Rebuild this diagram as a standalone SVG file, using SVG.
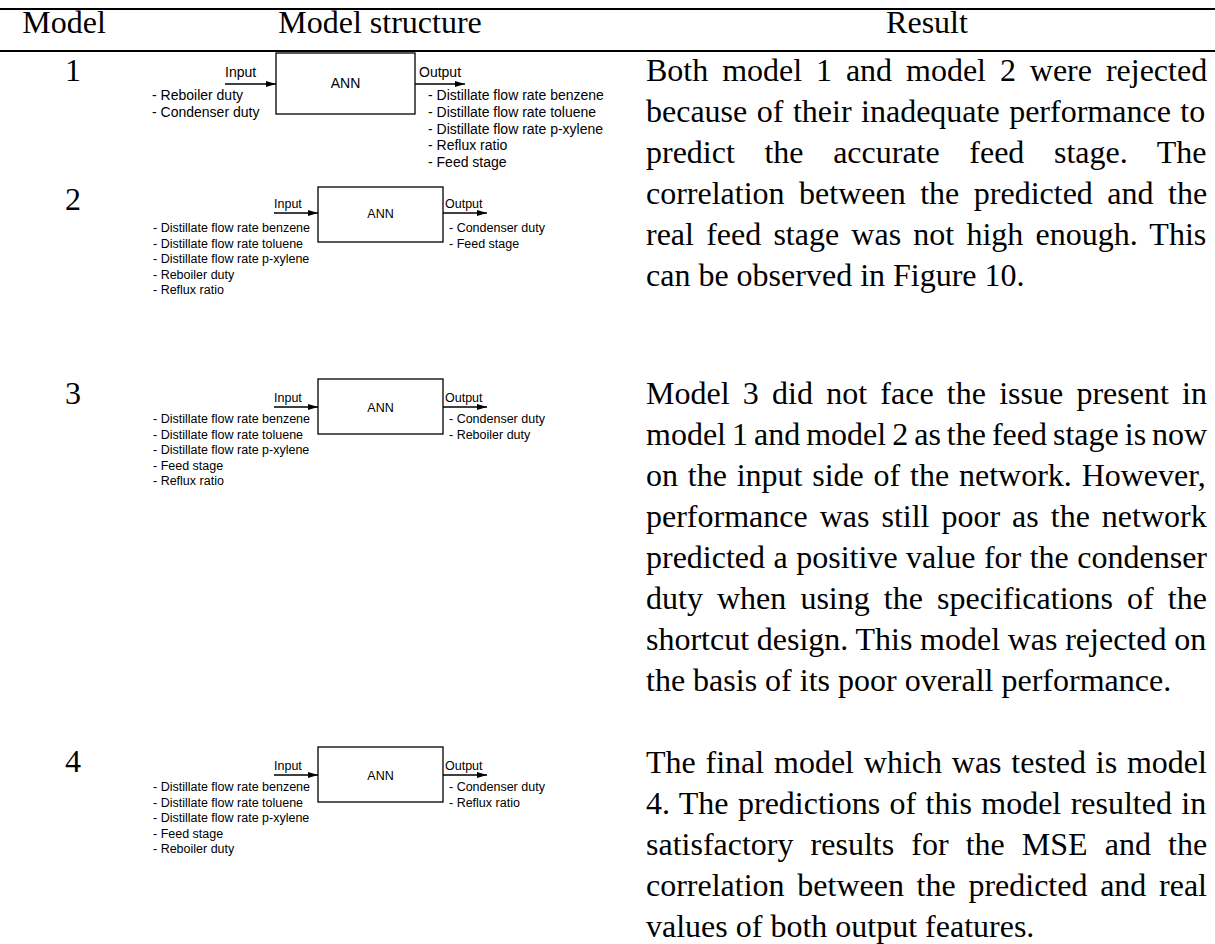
<svg xmlns="http://www.w3.org/2000/svg" width="1215" height="944" viewBox="0 0 1215 944">
  <defs>
    <marker id="arrow" viewBox="0 0 10 6" refX="10" refY="3" markerWidth="10" markerHeight="6" markerUnits="userSpaceOnUse" orient="auto">
      <path d="M0,0 L10,3 L0,6 z" fill="#000"/>
    </marker>
  </defs>
  <style>
    .rule{stroke:#000;stroke-width:2}
    .serif{font-family:"Liberation Serif","Times New Roman",serif;font-size:32px;fill:#000}
    .mid{text-anchor:middle}
    .box{fill:#fff;stroke:#000;stroke-width:1.3}
    .sans{font-family:"Liberation Sans",Arial,sans-serif;fill:#000}
    .s1{font-size:14px}
    .s2{font-size:12.5px}
    .conn{stroke:#000;stroke-width:1.3;fill:none;marker-end:url(#arrow)}
  </style>
  <rect width="1215" height="944" fill="#fff"/>

  <!-- table rules -->
  <g id="rules">
    <line class="rule" x1="0" y1="9" x2="1215" y2="9"/>
    <line class="rule" x1="0" y1="51" x2="1215" y2="51"/>
  </g>

  <!-- header row -->
  <g id="header" class="serif mid">
    <text x="64" y="33">Model</text>
    <text x="380" y="33">Model structure</text>
    <text x="927" y="33">Result</text>
  </g>

  <!-- model numbers -->
  <g id="numbers" class="serif mid">
    <text x="73" y="81">1</text>
    <text x="73" y="210">2</text>
    <text x="73" y="404">3</text>
    <text x="73" y="772">4</text>
  </g>

  <!-- model 1 -->
  <g id="model1" class="sans s1">
    <rect class="box" x="276" y="53" width="139" height="61"/>
    <text x="345.5" y="88" text-anchor="middle">ANN</text>
    <text x="225" y="77">Input</text>
    <text x="419" y="77">Output</text>
    <text x="152" y="100">- Reboiler duty</text>
    <text x="152" y="117">- Condenser duty</text>
    <text x="428" y="100">- Distillate flow rate benzene</text>
    <text x="428" y="117">- Distillate flow rate toluene</text>
    <text x="428" y="134">- Distillate flow rate p-xylene</text>
    <text x="428" y="150">- Reflux ratio</text>
    <text x="428" y="167">- Feed stage</text>
  </g>

  <!-- model 2 -->
  <g id="model2" class="sans s2">
    <rect class="box" x="318" y="187" width="125" height="55"/>
    <text x="380.5" y="218" text-anchor="middle">ANN</text>
    <text x="274" y="208">Input</text>
    <text x="445" y="208">Output</text>
    <text x="153" y="232">- Distillate flow rate benzene</text>
    <text x="153" y="247.5">- Distillate flow rate toluene</text>
    <text x="153" y="263">- Distillate flow rate p-xylene</text>
    <text x="153" y="278.5">- Reboiler duty</text>
    <text x="153" y="294">- Reflux ratio</text>
    <text x="449" y="232">- Condenser duty</text>
    <text x="449" y="247.5">- Feed stage</text>
  </g>

  <!-- model 3 -->
  <g id="model3" class="sans s2">
    <rect class="box" x="318" y="379" width="125" height="55"/>
    <text x="380.5" y="412" text-anchor="middle">ANN</text>
    <text x="274" y="402">Input</text>
    <text x="445" y="402">Output</text>
    <text x="153" y="423">- Distillate flow rate benzene</text>
    <text x="153" y="438.5">- Distillate flow rate toluene</text>
    <text x="153" y="454">- Distillate flow rate p-xylene</text>
    <text x="153" y="469.5">- Feed stage</text>
    <text x="153" y="485">- Reflux ratio</text>
    <text x="449" y="423">- Condenser duty</text>
    <text x="449" y="438.5">- Reboiler duty</text>
  </g>

  <!-- model 4 -->
  <g id="model4" class="sans s2">
    <rect class="box" x="318" y="747" width="125" height="55"/>
    <text x="380.5" y="780" text-anchor="middle">ANN</text>
    <text x="274" y="770">Input</text>
    <text x="445" y="770">Output</text>
    <text x="153" y="791">- Distillate flow rate benzene</text>
    <text x="153" y="806.5">- Distillate flow rate toluene</text>
    <text x="153" y="822">- Distillate flow rate p-xylene</text>
    <text x="153" y="837.5">- Feed stage</text>
    <text x="153" y="853">- Reboiler duty</text>
    <text x="449" y="791">- Condenser duty</text>
    <text x="449" y="806.5">- Reflux ratio</text>
  </g>

  <!-- input / output arrows -->
  <g id="connectors">
    <line class="conn" x1="225" y1="84" x2="276" y2="84"/>
    <line class="conn" x1="415" y1="84" x2="465" y2="84"/>
    <line class="conn" x1="274" y1="213" x2="318" y2="213"/>
    <line class="conn" x1="443" y1="213" x2="487" y2="213"/>
    <line class="conn" x1="274" y1="407" x2="318" y2="407"/>
    <line class="conn" x1="443" y1="407" x2="487" y2="407"/>
    <line class="conn" x1="274" y1="775" x2="318" y2="775"/>
    <line class="conn" x1="443" y1="775" x2="487" y2="775"/>
  </g>

  <!-- result column, justified lines -->
  <g id="result1" class="serif">
    <text x="646" y="81" word-spacing="5.9">Both model 1 and model 2 were rejected</text>
    <text x="646" y="122" word-spacing="1.5">because of their inadequate performance to</text>
    <text x="646" y="163" word-spacing="21.6">predict the accurate feed stage. The</text>
    <text x="646" y="204" word-spacing="6.5">correlation between the predicted and the</text>
    <text x="646" y="245" word-spacing="4.2">real feed stage was not high enough. This</text>
    <text x="646" y="286">can be observed in Figure 10.</text>
  </g>
  <g id="result3" class="serif">
    <text x="646" y="404" word-spacing="5.25">Model 3 did not face the issue present in</text>
    <text x="646" y="445" word-spacing="-2">model 1 and model 2 as the feed stage is now</text>
    <text x="646" y="486" word-spacing="1.8">on the input side of the network. However,</text>
    <text x="646" y="527" word-spacing="4">performance was still poor as the network</text>
    <text x="646" y="568" word-spacing="0.5">predicted a positive value for the condenser</text>
    <text x="646" y="609" word-spacing="6.1">duty when using the specifications of the</text>
    <text x="646" y="650" word-spacing="-0.3">shortcut design. This model was rejected on</text>
    <text x="646" y="691">the basis of its poor overall performance.</text>
  </g>
  <g id="result4" class="serif">
    <text x="646" y="773" word-spacing="1.8">The final model which was tested is model</text>
    <text x="646" y="814" word-spacing="1.4">4. The predictions of this model resulted in</text>
    <text x="646" y="855" word-spacing="9.1">satisfactory results for the MSE and the</text>
    <text x="646" y="896" word-spacing="4.7">correlation between the predicted and real</text>
    <text x="646" y="937">values of both output features.</text>
  </g>
</svg>
